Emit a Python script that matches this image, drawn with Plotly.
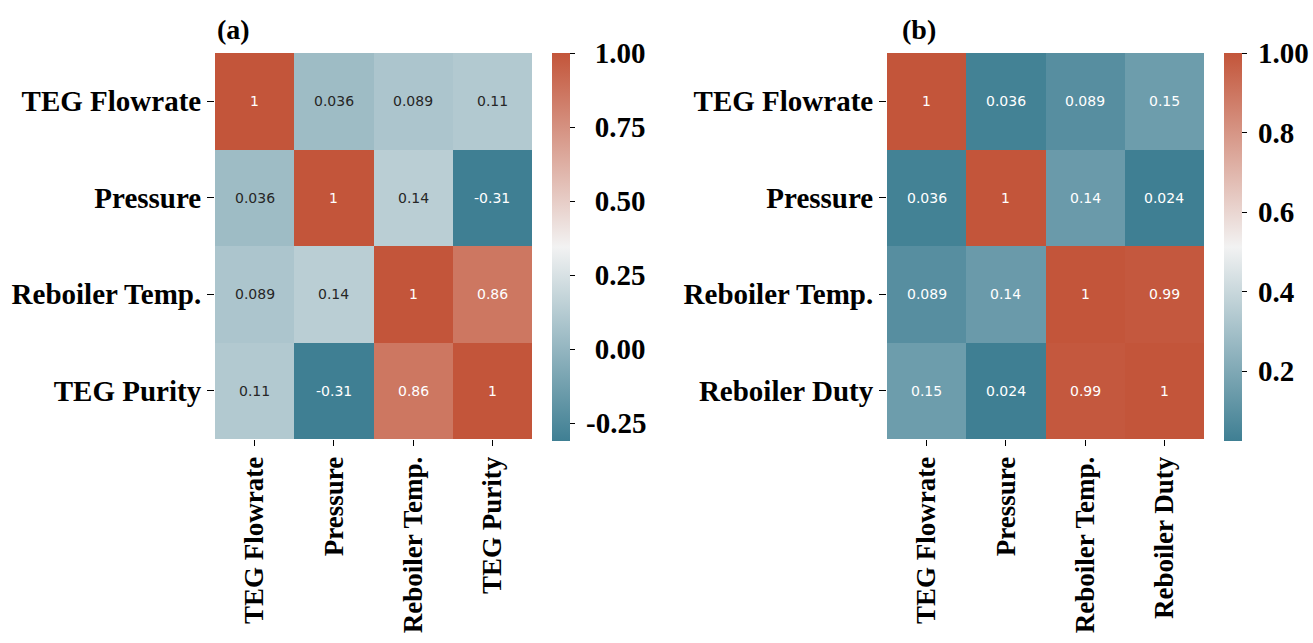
import plotly.graph_objects as go

# ---------------- data ----------------
labels_a = ["TEG Flowrate", "Pressure", "Reboiler Temp.", "TEG Purity"]
corr_a = [
    [1.0, 0.036, 0.089, 0.11],
    [0.036, 1.0, 0.14, -0.31],
    [0.089, 0.14, 1.0, 0.86],
    [0.11, -0.31, 0.86, 1.0],
]
labels_b = ["TEG Flowrate", "Pressure", "Reboiler Temp.", "Reboiler Duty"]
corr_b = [
    [1.0, 0.036, 0.089, 0.15],
    [0.036, 1.0, 0.14, 0.024],
    [0.089, 0.14, 1.0, 0.99],
    [0.15, 0.024, 0.99, 1.0],
]
cbar_a_vals = [-0.25, 0.0, 0.25, 0.50, 0.75, 1.00]
cbar_a_text = ["-0.25", "0.00", "0.25", "0.50", "0.75", "1.00"]
cbar_b_vals = [0.2, 0.4, 0.6, 0.8, 1.0]
cbar_b_text = ["0.2", "0.4", "0.6", "0.8", "1.00"]
panel_titles = ["(a)", "(b)"]

# ---------------- style ----------------
W, H = 1313, 643
NEG = (63, 127, 147)
MID = (242, 242, 242)
POS = (195, 85, 58)
colorscale = [[0.0, "rgb(%d,%d,%d)" % NEG], [0.5, "rgb(%d,%d,%d)" % MID], [1.0, "rgb(%d,%d,%d)" % POS]]
SERIF = "Liberation Serif"
TICKFONT = dict(family=SERIF, size=29, color="black", weight="bold")
XTICKFONT = dict(family=SERIF, size=27, color="black", weight="bold")


def cmap(t):
    t = min(max(t, 0.0), 1.0)
    if t <= 0.5:
        a, b, f = NEG, MID, t / 0.5
    else:
        a, b, f = MID, POS, (t - 0.5) / 0.5
    return tuple(a[i] + (b[i] - a[i]) * f for i in range(3))


def rel_lum(rgb):
    out = []
    for c in rgb:
        c = c / 255.0
        out.append(c / 12.92 if c <= 0.03928 else ((c + 0.055) / 1.055) ** 2.4)
    return 0.2126 * out[0] + 0.7152 * out[1] + 0.0722 * out[2]


def px_x(p):
    return p / W


def px_y(p):
    return 1 - p / H


def pad_labels(texts, pad_pos, pad_neg):
    return [(pad_neg if t.startswith("-") else pad_pos) + t for t in texts]


fig = go.Figure()

panels = [
    dict(labels=labels_a, z=corr_a, xd=(215, 532), cbx=552, cbv=cbar_a_vals,
         cbt=pad_labels(cbar_a_text, "\u2002", "\u2009"), title_x=215, xa="x", ya="y"),
    dict(labels=labels_b, z=corr_b, xd=(887, 1204), cbx=1224, cbv=cbar_b_vals,
         cbt=pad_labels(cbar_b_text, "\u2009", ""), title_x=900, xa="x2", ya="y2"),
]
ytop, ybot = 53, 439

for i, p in enumerate(panels):
    flat = [v for row in p["z"] for v in row]
    zmin, zmax = min(flat), max(flat)
    fig.add_trace(go.Heatmap(
        z=p["z"], x=p["labels"], y=p["labels"], xaxis=p["xa"], yaxis=p["ya"],
        zmin=zmin, zmax=zmax, colorscale=colorscale, hoverongaps=False,
        colorbar=dict(
            x=px_x(p["cbx"]), xanchor="left", xref="paper",
            y=px_y(ytop), yanchor="top", yref="paper",
            len=ybot - ytop + 2, lenmode="pixels", xpad=0, ypad=0,
            thickness=18, thicknessmode="pixels",
            outlinewidth=0, ticks="outside", ticklen=5, tickwidth=1, tickcolor="black",
            tickvals=p["cbv"], ticktext=p["cbt"], tickfont=TICKFONT,
        ),
    ))
    # annotations
    for r, row in enumerate(p["z"]):
        for c, v in enumerate(row):
            t = (v - zmin) / (zmax - zmin)
            col = "#262626" if rel_lum(cmap(t)) > 0.408 else "white"
            fig.add_annotation(
                x=p["labels"][c], y=p["labels"][r], xref=p["xa"], yref=p["ya"],
                text="{:.2g}".format(v), showarrow=False,
                font=dict(family="DejaVu Sans", size=14, color=col),
            )
    fig.add_annotation(
        x=px_x(p["title_x"]), y=px_y(29), xref="paper", yref="paper",
        xanchor="left", yanchor="middle", text="<b>%s</b>" % panel_titles[i], showarrow=False,
        font=dict(family=SERIF, size=28, color="black"),
    )

axis_common = dict(
    type="category", ticks="outside", tickwidth=1, tickcolor="black",
    showgrid=False, zeroline=False, showline=False, automargin=False,
)
xaxis_style = dict(tickangle=-90, ticklen=6, tickfont=XTICKFONT, **axis_common)
yaxis_style = dict(autorange="reversed", ticklen=7, tickfont=TICKFONT, **axis_common)
fig.update_layout(
    width=W, height=H, margin=dict(l=0, r=0, t=0, b=0),
    paper_bgcolor="white", plot_bgcolor="white", template="none", showlegend=False,
    xaxis=dict(domain=[px_x(215), px_x(532)], anchor="y", **xaxis_style),
    yaxis=dict(domain=[px_y(ybot), px_y(ytop)], anchor="x", **yaxis_style),
    xaxis2=dict(domain=[px_x(887), px_x(1204)], anchor="y2", **xaxis_style),
    yaxis2=dict(domain=[px_y(ybot), px_y(ytop)], anchor="x2", **yaxis_style),
)

fig.write_html("out.html")
